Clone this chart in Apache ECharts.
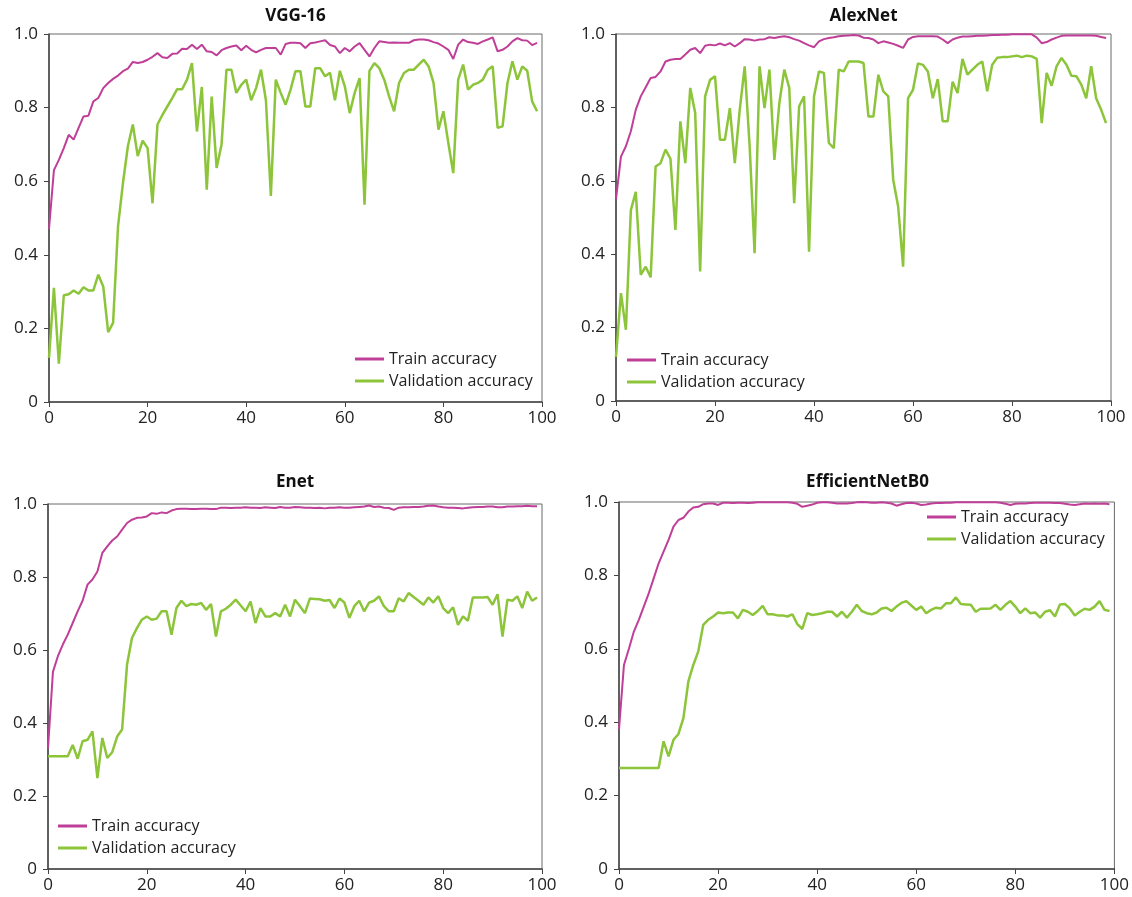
<!DOCTYPE html>
<html>
<head>
<meta charset="utf-8">
<title>Train / Validation accuracy</title>
<script src="https://cdn.jsdelivr.net/npm/echarts@6/dist/echarts.min.js"></script>
<style>
    html, body { margin: 0; padding: 0; background: #fff; }
    #chart { width: 1132px; height: 897px; }
</style>
</head>
<body>
<div id="chart"></div>
<script>
// 数据 (读自原图, epoch 0..99)
var titles = ['VGG-16', 'AlexNet', 'Enet', 'EfficientNetB0'];
var seriesNames = ['Train accuracy', 'Validation accuracy'];

var vggTrain = [0.47, 0.63, 0.658, 0.69, 0.726, 0.713, 0.745, 0.776, 0.778, 0.817,
    0.826, 0.853, 0.867, 0.878, 0.887, 0.899, 0.906, 0.924, 0.921, 0.924,
    0.93, 0.938, 0.948, 0.937, 0.935, 0.946, 0.947, 0.96, 0.959, 0.971,
    0.959, 0.971, 0.953, 0.951, 0.942, 0.956, 0.962, 0.966, 0.969, 0.956,
    0.968, 0.957, 0.95, 0.957, 0.962, 0.962, 0.962, 0.944, 0.973, 0.976,
    0.976, 0.975, 0.962, 0.975, 0.977, 0.98, 0.983, 0.97, 0.966, 0.948,
    0.962, 0.953, 0.966, 0.975, 0.957, 0.939, 0.962, 0.98, 0.978, 0.976,
    0.977, 0.976, 0.976, 0.976, 0.983, 0.985, 0.985, 0.983, 0.978, 0.974,
    0.966, 0.957, 0.932, 0.971, 0.985, 0.978, 0.976, 0.973, 0.98, 0.985,
    0.991, 0.953, 0.957, 0.966, 0.98, 0.989, 0.983, 0.982, 0.97, 0.976];
var vggVal = [0.12, 0.31, 0.104, 0.29, 0.293, 0.303, 0.294, 0.312, 0.303, 0.303,
    0.346, 0.314, 0.19, 0.215, 0.477, 0.595, 0.695, 0.754, 0.668, 0.71,
    0.69, 0.54, 0.754, 0.78, 0.803, 0.826, 0.85, 0.85, 0.876, 0.921,
    0.735, 0.856, 0.577, 0.83, 0.636, 0.70, 0.903, 0.903, 0.84, 0.862,
    0.876, 0.82, 0.853, 0.903, 0.82, 0.56, 0.876, 0.84, 0.808, 0.849,
    0.899, 0.899, 0.803, 0.803, 0.907, 0.907, 0.885, 0.895, 0.82, 0.9,
    0.858, 0.785, 0.84, 0.88, 0.536, 0.9, 0.921, 0.907, 0.876, 0.83,
    0.79, 0.867, 0.894, 0.903, 0.903, 0.917, 0.93, 0.912, 0.867, 0.74,
    0.79, 0.704, 0.622, 0.876, 0.917, 0.849, 0.862, 0.867, 0.876, 0.903,
    0.912, 0.745, 0.749, 0.867, 0.926, 0.876, 0.912, 0.9, 0.817, 0.79];

var alexTrain = [0.55, 0.666, 0.694, 0.735, 0.794, 0.83, 0.855, 0.88, 0.883, 0.898,
    0.925, 0.93, 0.932, 0.932, 0.944, 0.957, 0.962, 0.948, 0.968, 0.971,
    0.969, 0.974, 0.969, 0.975, 0.966, 0.975, 0.986, 0.985, 0.982, 0.985,
    0.986, 0.991, 0.989, 0.992, 0.994, 0.991, 0.986, 0.982, 0.975, 0.969,
    0.964, 0.98, 0.986, 0.989, 0.991, 0.994, 0.995, 0.996, 0.997, 0.996,
    0.99, 0.989, 0.985, 0.975, 0.98, 0.977, 0.973, 0.968, 0.962, 0.985,
    0.992, 0.994, 0.994, 0.994, 0.994, 0.993, 0.985, 0.975, 0.985, 0.99,
    0.993, 0.993, 0.994, 0.995, 0.995, 0.996, 0.997, 0.997, 0.998, 0.998,
    0.999, 0.999, 0.999, 0.999, 0.999, 0.99, 0.975, 0.978, 0.985, 0.99,
    0.995, 0.996, 0.996, 0.996, 0.996, 0.996, 0.996, 0.995, 0.992, 0.989];
var alexVal = [0.12, 0.294, 0.194, 0.52, 0.57, 0.344, 0.366, 0.337, 0.639, 0.648,
    0.685, 0.66, 0.466, 0.762, 0.648, 0.853, 0.785, 0.353, 0.83, 0.875,
    0.885, 0.712, 0.712, 0.798, 0.648, 0.794, 0.912, 0.694, 0.403, 0.912,
    0.798, 0.903, 0.657, 0.812, 0.903, 0.853, 0.539, 0.803, 0.83, 0.407,
    0.83, 0.898, 0.894, 0.703, 0.689, 0.903, 0.898, 0.925, 0.925, 0.925,
    0.921, 0.775, 0.775, 0.889, 0.844, 0.83, 0.603, 0.53, 0.366, 0.825,
    0.848, 0.92, 0.916, 0.898, 0.825, 0.877, 0.762, 0.762, 0.87, 0.839,
    0.932, 0.889, 0.903, 0.916, 0.925, 0.844, 0.916, 0.935, 0.937, 0.937,
    0.939, 0.941, 0.937, 0.941, 0.939, 0.932, 0.757, 0.894, 0.859, 0.912,
    0.935, 0.916, 0.886, 0.885, 0.862, 0.825, 0.912, 0.825, 0.794, 0.757];

var enetTrain = [0.33, 0.54, 0.583, 0.615, 0.642, 0.674, 0.706, 0.735, 0.779, 0.793,
    0.815, 0.866, 0.884, 0.9, 0.911, 0.93, 0.948, 0.957, 0.962, 0.963,
    0.966, 0.975, 0.973, 0.977, 0.975, 0.982, 0.986, 0.987, 0.987, 0.986,
    0.986, 0.987, 0.987, 0.986, 0.986, 0.99, 0.99, 0.989, 0.99, 0.99,
    0.991, 0.99, 0.99, 0.989, 0.991, 0.99, 0.989, 0.992, 0.99, 0.99,
    0.992, 0.991, 0.99, 0.99, 0.989, 0.99, 0.988, 0.99, 0.99, 0.991,
    0.99, 0.99, 0.991, 0.992, 0.993, 0.996, 0.992, 0.993, 0.99, 0.989,
    0.984, 0.99, 0.991, 0.991, 0.992, 0.992, 0.993, 0.995, 0.996, 0.993,
    0.991, 0.99, 0.99, 0.989, 0.988, 0.99, 0.991, 0.992, 0.992, 0.993,
    0.993, 0.991, 0.991, 0.993, 0.993, 0.994, 0.994, 0.995, 0.994, 0.994];
var enetVal = [0.309, 0.309, 0.309, 0.309, 0.309, 0.34, 0.302, 0.35, 0.354, 0.377,
    0.249, 0.359, 0.304, 0.32, 0.363, 0.382, 0.56, 0.633, 0.66, 0.683,
    0.692, 0.683, 0.686, 0.706, 0.706, 0.642, 0.715, 0.735, 0.72, 0.726,
    0.724, 0.729, 0.71, 0.726, 0.637, 0.706, 0.713, 0.724, 0.738, 0.722,
    0.706, 0.733, 0.674, 0.715, 0.692, 0.692, 0.701, 0.692, 0.724, 0.692,
    0.738, 0.72, 0.701, 0.741, 0.74, 0.739, 0.735, 0.737, 0.715, 0.741,
    0.73, 0.688, 0.72, 0.735, 0.706, 0.73, 0.735, 0.747, 0.72, 0.706,
    0.706, 0.742, 0.733, 0.756, 0.745, 0.735, 0.724, 0.744, 0.73, 0.747,
    0.715, 0.701, 0.717, 0.669, 0.692, 0.68, 0.744, 0.744, 0.744, 0.745,
    0.724, 0.753, 0.637, 0.738, 0.735, 0.747, 0.715, 0.76, 0.735, 0.744];

var effTrain = [0.38, 0.556, 0.60, 0.647, 0.679, 0.715, 0.751, 0.792, 0.833, 0.865,
    0.897, 0.933, 0.951, 0.957, 0.974, 0.985, 0.987, 0.994, 0.996, 0.996,
    0.992, 0.998, 0.998, 0.997, 0.998, 0.998, 0.997, 0.998, 0.999, 0.999,
    0.999, 0.999, 0.999, 0.999, 0.999, 0.998, 0.995, 0.987, 0.99, 0.993,
    0.998, 0.999, 0.999, 0.998, 0.996, 0.996, 0.996, 0.997, 0.999, 1.0,
    0.999, 0.998, 0.998, 0.999, 0.998, 0.996, 0.99, 0.994, 0.997, 0.998,
    0.996, 0.992, 0.993, 0.996, 0.997, 0.997, 0.998, 0.998, 0.999, 0.999,
    0.999, 0.999, 0.999, 0.999, 0.999, 0.999, 0.999, 0.998, 0.995, 0.992,
    0.995, 0.996, 0.996, 0.997, 0.998, 0.998, 0.998, 0.998, 0.997, 0.997,
    0.995, 0.993, 0.992, 0.994, 0.996, 0.995, 0.996, 0.995, 0.996, 0.994];
var effVal = [0.275, 0.275, 0.275, 0.275, 0.275, 0.275, 0.275, 0.275, 0.275, 0.348,
    0.307, 0.352, 0.368, 0.411, 0.511, 0.556, 0.593, 0.665, 0.679, 0.688,
    0.699, 0.697, 0.699, 0.699, 0.683, 0.706, 0.701, 0.692, 0.703, 0.717,
    0.694, 0.694, 0.691, 0.691, 0.688, 0.694, 0.667, 0.654, 0.697, 0.692,
    0.694, 0.697, 0.701, 0.701, 0.688, 0.701, 0.685, 0.701, 0.72, 0.703,
    0.697, 0.694, 0.699, 0.71, 0.712, 0.703, 0.715, 0.725, 0.73, 0.718,
    0.706, 0.715, 0.697, 0.706, 0.712, 0.71, 0.724, 0.724, 0.74, 0.722,
    0.721, 0.72, 0.701, 0.709, 0.709, 0.71, 0.72, 0.706, 0.72, 0.73,
    0.715, 0.697, 0.71, 0.697, 0.699, 0.685, 0.701, 0.705, 0.688, 0.721,
    0.722, 0.71, 0.691, 0.701, 0.709, 0.706, 0.715, 0.73, 0.706, 0.703];

var trainSets = [vggTrain, alexTrain, enetTrain, effTrain];
var valSets = [vggVal, alexVal, enetVal, effVal];

// 布局
var grids = [
    { left: 49, top: 34, width: 493, height: 368 },
    { left: 616, top: 34, width: 495, height: 367 },
    { left: 48, top: 504, width: 494, height: 365 },
    { left: 619, top: 502, width: 497, height: 367 }
];
var titleTops = [3, 3, 469, 469];
var legendPos = [
    { left: 355, top: 350 },
    { left: 627, top: 351 },
    { left: 58, top: 817 },
    { left: 927, top: 508 }
];

var trainColor = '#bf3f98';
var valColor = '#8cc43a';
var font = '"Open Sans", "Noto Sans", sans-serif';

function toPairs(arr) {
    return arr.map(function (v, i) { return [i, v]; });
}

var option = {
    backgroundColor: '#fff',
    animation: false,
    textStyle: { fontFamily: font },
    title: [],
    legend: [],
    grid: [],
    xAxis: [],
    yAxis: [],
    series: []
};

for (var i = 0; i < 4; i++) {
    var g = grids[i];
    option.grid.push({
        left: g.left, top: g.top, width: g.width, height: g.height,
        show: true, borderColor: '#6a6a6a', borderWidth: 1, backgroundColor: 'transparent'
    });
    //标题
    option.title.push({
        text: titles[i],
        left: g.left + g.width / 2 - 5,
        top: titleTops[i],
        textAlign: 'center',
        textStyle: { fontFamily: font, fontSize: 17, fontWeight: 'bold', color: '#111' }
    });
    //图例
    option.legend.push({
        orient: 'vertical',
        left: legendPos[i].left,
        top: legendPos[i].top,
        padding: 0,
        itemGap: 4,
        itemWidth: 29,
        itemHeight: 3,
        icon: 'rect',
        data: seriesNames,
        textStyle: { fontFamily: font, fontSize: 16, color: '#222', lineHeight: 18 }
    });
    option.xAxis.push({
        type: 'value', gridIndex: i, min: 0, max: 100, interval: 20,
        axisLine: { show: true, lineStyle: { color: '#444', width: 1.5 } },
        axisTick: { show: true, length: 5, lineStyle: { color: '#444' } },
        splitLine: { show: false },
        axisLabel: { fontFamily: font, fontSize: 17, color: '#222', margin: 8 }
    });
    option.yAxis.push({
        type: 'value', gridIndex: i, min: 0, max: 1, interval: 0.2,
        axisLine: { show: true, lineStyle: { color: '#444', width: 1.5 } },
        axisTick: { show: true, length: 5, lineStyle: { color: '#444' } },
        splitLine: { show: false },
        axisLabel: {
            fontFamily: font, fontSize: 17, color: '#222', margin: 11,
            formatter: function (v) { return v === 0 ? '0' : v.toFixed(1); }
        }
    });
    option.series.push({
        name: seriesNames[0], type: 'line', xAxisIndex: i, yAxisIndex: i,
        data: toPairs(trainSets[i]), showSymbol: false, symbol: 'none',
        lineStyle: { color: trainColor, width: 2 }, itemStyle: { color: trainColor }, z: 3
    });
    option.series.push({
        name: seriesNames[1], type: 'line', xAxisIndex: i, yAxisIndex: i,
        data: toPairs(valSets[i]), showSymbol: false, symbol: 'none',
        lineStyle: { color: valColor, width: 2.5 }, itemStyle: { color: valColor }, z: 2
    });
}

var chart = echarts.init(document.getElementById('chart'));
chart.setOption(option);
</script>
</body>
</html>
